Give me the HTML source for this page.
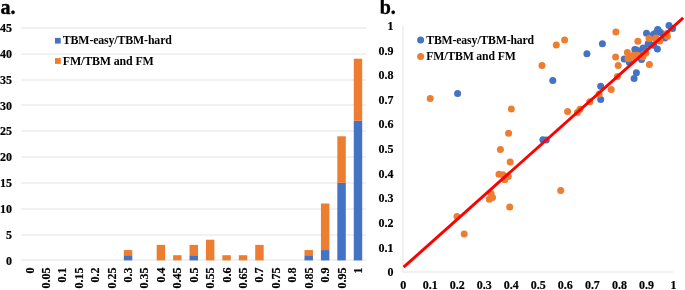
<!DOCTYPE html>
<html><head><meta charset="utf-8"><style>
html,body{margin:0;padding:0;background:#fff;width:685px;height:290px;overflow:hidden}
svg{display:block;will-change:transform}
.t{font-family:"Liberation Serif", serif;font-weight:bold;font-size:12px;fill:#000;stroke:#000;stroke-width:0.2px}
.l{font-family:"Liberation Serif", serif;font-weight:bold;font-size:12.5px;fill:#000}
.h{font-family:"Liberation Serif", serif;font-weight:bold;font-size:20px;fill:#000;stroke:#000;stroke-width:0.35px}
</style></head><body>
<svg width="685" height="290" viewBox="0 0 685 290">
<line x1="21.3" x2="366.2" y1="260" y2="260" stroke="#E3E3E3" stroke-width="1"/>
<text transform="translate(12,264.64) scale(1,1.06)" text-anchor="end" class="t">0</text>
<line x1="21.3" x2="366.2" y1="235" y2="235" stroke="#E3E3E3" stroke-width="1"/>
<text transform="translate(12,238.78) scale(1,1.06)" text-anchor="end" class="t">5</text>
<line x1="21.3" x2="366.2" y1="209" y2="209" stroke="#E3E3E3" stroke-width="1"/>
<text transform="translate(12,212.93) scale(1,1.06)" text-anchor="end" class="t">10</text>
<line x1="21.3" x2="366.2" y1="183" y2="183" stroke="#E3E3E3" stroke-width="1"/>
<text transform="translate(12,187.07) scale(1,1.06)" text-anchor="end" class="t">15</text>
<line x1="21.3" x2="366.2" y1="157" y2="157" stroke="#E3E3E3" stroke-width="1"/>
<text transform="translate(12,161.22) scale(1,1.06)" text-anchor="end" class="t">20</text>
<line x1="21.3" x2="366.2" y1="131" y2="131" stroke="#E3E3E3" stroke-width="1"/>
<text transform="translate(12,135.36) scale(1,1.06)" text-anchor="end" class="t">25</text>
<line x1="21.3" x2="366.2" y1="105" y2="105" stroke="#E3E3E3" stroke-width="1"/>
<text transform="translate(12,109.51) scale(1,1.06)" text-anchor="end" class="t">30</text>
<line x1="21.3" x2="366.2" y1="80" y2="80" stroke="#E3E3E3" stroke-width="1"/>
<text transform="translate(12,83.65) scale(1,1.06)" text-anchor="end" class="t">35</text>
<line x1="21.3" x2="366.2" y1="54" y2="54" stroke="#E3E3E3" stroke-width="1"/>
<text transform="translate(12,57.8) scale(1,1.06)" text-anchor="end" class="t">40</text>
<line x1="21.3" x2="366.2" y1="28" y2="28" stroke="#E3E3E3" stroke-width="1"/>
<text transform="translate(12,31.94) scale(1,1.06)" text-anchor="end" class="t">45</text>
<rect x="123.83" y="255.23" width="8.45" height="5.17" fill="#4472C4"/>
<rect x="123.83" y="250.06" width="8.45" height="5.17" fill="#ED7D31"/>
<rect x="156.68" y="244.89" width="8.45" height="15.51" fill="#ED7D31"/>
<rect x="173.1" y="255.23" width="8.45" height="5.17" fill="#ED7D31"/>
<rect x="189.53" y="255.23" width="8.45" height="5.17" fill="#4472C4"/>
<rect x="189.53" y="244.89" width="8.45" height="10.34" fill="#ED7D31"/>
<rect x="205.95" y="239.72" width="8.45" height="20.68" fill="#ED7D31"/>
<rect x="222.37" y="255.23" width="8.45" height="5.17" fill="#ED7D31"/>
<rect x="238.8" y="255.23" width="8.45" height="5.17" fill="#ED7D31"/>
<rect x="255.22" y="244.89" width="8.45" height="15.51" fill="#ED7D31"/>
<rect x="304.49" y="255.23" width="8.45" height="5.17" fill="#4472C4"/>
<rect x="304.49" y="250.06" width="8.45" height="5.17" fill="#ED7D31"/>
<rect x="320.92" y="250.06" width="8.45" height="10.34" fill="#4472C4"/>
<rect x="320.92" y="203.52" width="8.45" height="46.54" fill="#ED7D31"/>
<rect x="337.34" y="182.83" width="8.45" height="77.57" fill="#4472C4"/>
<rect x="337.34" y="136.29" width="8.45" height="46.54" fill="#ED7D31"/>
<rect x="353.76" y="120.78" width="8.45" height="139.62" fill="#4472C4"/>
<rect x="353.76" y="58.73" width="8.45" height="62.05" fill="#ED7D31"/>
<text transform="translate(33.51,267.6) rotate(-90)" text-anchor="end" class="t">0</text>
<text transform="translate(49.94,267.6) rotate(-90)" text-anchor="end" class="t">0.05</text>
<text transform="translate(66.36,267.6) rotate(-90)" text-anchor="end" class="t">0.1</text>
<text transform="translate(82.78,267.6) rotate(-90)" text-anchor="end" class="t">0.15</text>
<text transform="translate(99.21,267.6) rotate(-90)" text-anchor="end" class="t">0.2</text>
<text transform="translate(115.63,267.6) rotate(-90)" text-anchor="end" class="t">0.25</text>
<text transform="translate(132.05,267.6) rotate(-90)" text-anchor="end" class="t">0.3</text>
<text transform="translate(148.48,267.6) rotate(-90)" text-anchor="end" class="t">0.35</text>
<text transform="translate(164.9,267.6) rotate(-90)" text-anchor="end" class="t">0.4</text>
<text transform="translate(181.33,267.6) rotate(-90)" text-anchor="end" class="t">0.45</text>
<text transform="translate(197.75,267.6) rotate(-90)" text-anchor="end" class="t">0.5</text>
<text transform="translate(214.17,267.6) rotate(-90)" text-anchor="end" class="t">0.55</text>
<text transform="translate(230.6,267.6) rotate(-90)" text-anchor="end" class="t">0.6</text>
<text transform="translate(247.02,267.6) rotate(-90)" text-anchor="end" class="t">0.65</text>
<text transform="translate(263.45,267.6) rotate(-90)" text-anchor="end" class="t">0.7</text>
<text transform="translate(279.87,267.6) rotate(-90)" text-anchor="end" class="t">0.75</text>
<text transform="translate(296.29,267.6) rotate(-90)" text-anchor="end" class="t">0.8</text>
<text transform="translate(312.72,267.6) rotate(-90)" text-anchor="end" class="t">0.85</text>
<text transform="translate(329.14,267.6) rotate(-90)" text-anchor="end" class="t">0.9</text>
<text transform="translate(345.56,267.6) rotate(-90)" text-anchor="end" class="t">0.95</text>
<text transform="translate(361.99,267.6) rotate(-90)" text-anchor="end" class="t">1</text>
<rect x="55.0" y="37.9" width="5.7" height="5.7" fill="#4472C4"/>
<text transform="translate(62.8,44.35) scale(0.95,1.05)" class="l" letter-spacing="-0.15">TBM-easy/TBM-hard</text>
<rect x="55.0" y="58.1" width="5.8" height="5.8" fill="#ED7D31"/>
<text transform="translate(62.8,64.7) scale(0.955,1.05)" class="l" letter-spacing="-0.15">FM/TBM and FM</text>
<text x="0.6" y="14" class="h">a.</text>
<line x1="403" x2="403" y1="25.9" y2="272.5" stroke="#E3E3E3" stroke-width="1"/>
<line x1="403.5" x2="673.4" y1="272" y2="272" stroke="#E3E3E3" stroke-width="1"/>
<text transform="translate(393.4,276.44) scale(1,1.06)" text-anchor="end" class="t">0</text>
<text transform="translate(403.3,289.2) scale(1,1.06)" text-anchor="middle" class="t">0</text>
<text transform="translate(393.4,251.78) scale(1,1.06)" text-anchor="end" class="t">0.1</text>
<text transform="translate(430.31,289.2) scale(1,1.06)" text-anchor="middle" class="t">0.1</text>
<text transform="translate(393.4,227.12) scale(1,1.06)" text-anchor="end" class="t">0.2</text>
<text transform="translate(457.32,289.2) scale(1,1.06)" text-anchor="middle" class="t">0.2</text>
<text transform="translate(393.4,202.46) scale(1,1.06)" text-anchor="end" class="t">0.3</text>
<text transform="translate(484.33,289.2) scale(1,1.06)" text-anchor="middle" class="t">0.3</text>
<text transform="translate(393.4,177.8) scale(1,1.06)" text-anchor="end" class="t">0.4</text>
<text transform="translate(511.34,289.2) scale(1,1.06)" text-anchor="middle" class="t">0.4</text>
<text transform="translate(393.4,153.14) scale(1,1.06)" text-anchor="end" class="t">0.5</text>
<text transform="translate(538.35,289.2) scale(1,1.06)" text-anchor="middle" class="t">0.5</text>
<text transform="translate(393.4,128.48) scale(1,1.06)" text-anchor="end" class="t">0.6</text>
<text transform="translate(565.36,289.2) scale(1,1.06)" text-anchor="middle" class="t">0.6</text>
<text transform="translate(393.4,103.82) scale(1,1.06)" text-anchor="end" class="t">0.7</text>
<text transform="translate(592.37,289.2) scale(1,1.06)" text-anchor="middle" class="t">0.7</text>
<text transform="translate(393.4,79.16) scale(1,1.06)" text-anchor="end" class="t">0.8</text>
<text transform="translate(619.38,289.2) scale(1,1.06)" text-anchor="middle" class="t">0.8</text>
<text transform="translate(393.4,54.5) scale(1,1.06)" text-anchor="end" class="t">0.9</text>
<text transform="translate(646.39,289.2) scale(1,1.06)" text-anchor="middle" class="t">0.9</text>
<text transform="translate(393.4,29.84) scale(1,1.06)" text-anchor="end" class="t">1</text>
<text transform="translate(673.4,289.2) scale(1,1.06)" text-anchor="middle" class="t">1</text>
<circle cx="457.6" cy="93.5" r="3.5" fill="#4472C4"/>
<circle cx="542.9" cy="139.8" r="3.5" fill="#4472C4"/>
<circle cx="546.3" cy="140" r="3.5" fill="#4472C4"/>
<circle cx="586.9" cy="53.8" r="3.5" fill="#4472C4"/>
<circle cx="552.8" cy="80.5" r="3.5" fill="#4472C4"/>
<circle cx="602.4" cy="43.8" r="3.5" fill="#4472C4"/>
<circle cx="600.7" cy="86.2" r="3.5" fill="#4472C4"/>
<circle cx="600.7" cy="99.6" r="3.5" fill="#4472C4"/>
<circle cx="636.4" cy="72.8" r="3.5" fill="#4472C4"/>
<circle cx="634.1" cy="78.6" r="3.5" fill="#4472C4"/>
<circle cx="624.2" cy="59" r="3.5" fill="#4472C4"/>
<circle cx="629.3" cy="62.2" r="3.5" fill="#4472C4"/>
<circle cx="634.8" cy="49.6" r="3.5" fill="#4472C4"/>
<circle cx="638.4" cy="51.9" r="3.5" fill="#4472C4"/>
<circle cx="642.9" cy="48.3" r="3.5" fill="#4472C4"/>
<circle cx="641.5" cy="59.5" r="3.5" fill="#4472C4"/>
<circle cx="644.3" cy="48" r="3.5" fill="#4472C4"/>
<circle cx="636.6" cy="50" r="3.5" fill="#4472C4"/>
<circle cx="649.3" cy="43.8" r="3.5" fill="#4472C4"/>
<circle cx="653.6" cy="45.3" r="3.5" fill="#4472C4"/>
<circle cx="657.4" cy="49" r="3.5" fill="#4472C4"/>
<circle cx="646.5" cy="33.3" r="3.5" fill="#4472C4"/>
<circle cx="653.4" cy="34.6" r="3.5" fill="#4472C4"/>
<circle cx="658.2" cy="30" r="3.5" fill="#4472C4"/>
<circle cx="657.6" cy="29.5" r="3.5" fill="#4472C4"/>
<circle cx="660.5" cy="32.5" r="3.5" fill="#4472C4"/>
<circle cx="655" cy="33.5" r="3.5" fill="#4472C4"/>
<circle cx="669" cy="25.5" r="3.5" fill="#4472C4"/>
<circle cx="672.6" cy="28.6" r="3.5" fill="#4472C4"/>
<circle cx="664.8" cy="38.1" r="3.5" fill="#4472C4"/>
<circle cx="648.3" cy="43.4" r="3.5" fill="#4472C4"/>
<circle cx="430.2" cy="98.5" r="3.5" fill="#ED7D31"/>
<circle cx="457" cy="216.5" r="3.5" fill="#ED7D31"/>
<circle cx="464.2" cy="234.1" r="3.5" fill="#ED7D31"/>
<circle cx="489.3" cy="199.2" r="3.5" fill="#ED7D31"/>
<circle cx="492.5" cy="197.5" r="3.5" fill="#ED7D31"/>
<circle cx="491" cy="193.6" r="3.5" fill="#ED7D31"/>
<circle cx="499" cy="174.3" r="3.5" fill="#ED7D31"/>
<circle cx="503" cy="174.7" r="3.5" fill="#ED7D31"/>
<circle cx="508.3" cy="176.6" r="3.5" fill="#ED7D31"/>
<circle cx="504.8" cy="179.8" r="3.5" fill="#ED7D31"/>
<circle cx="509.7" cy="206.9" r="3.5" fill="#ED7D31"/>
<circle cx="510.2" cy="162.1" r="3.5" fill="#ED7D31"/>
<circle cx="511.3" cy="109.1" r="3.5" fill="#ED7D31"/>
<circle cx="508.6" cy="133.3" r="3.5" fill="#ED7D31"/>
<circle cx="500.4" cy="149.5" r="3.5" fill="#ED7D31"/>
<circle cx="564.6" cy="39.9" r="3.5" fill="#ED7D31"/>
<circle cx="556.3" cy="45.1" r="3.5" fill="#ED7D31"/>
<circle cx="542" cy="65.4" r="3.5" fill="#ED7D31"/>
<circle cx="560.7" cy="190.4" r="3.5" fill="#ED7D31"/>
<circle cx="567.6" cy="111.5" r="3.5" fill="#ED7D31"/>
<circle cx="577.4" cy="112.6" r="3.5" fill="#ED7D31"/>
<circle cx="580" cy="109.2" r="3.5" fill="#ED7D31"/>
<circle cx="589.8" cy="101.7" r="3.5" fill="#ED7D31"/>
<circle cx="599.1" cy="94.1" r="3.5" fill="#ED7D31"/>
<circle cx="611.2" cy="89.5" r="3.5" fill="#ED7D31"/>
<circle cx="617.4" cy="76.6" r="3.5" fill="#ED7D31"/>
<circle cx="615.9" cy="31.9" r="3.5" fill="#ED7D31"/>
<circle cx="615.6" cy="57" r="3.5" fill="#ED7D31"/>
<circle cx="618.2" cy="65.6" r="3.5" fill="#ED7D31"/>
<circle cx="627.4" cy="52.5" r="3.5" fill="#ED7D31"/>
<circle cx="629" cy="58.3" r="3.5" fill="#ED7D31"/>
<circle cx="633.4" cy="55.3" r="3.5" fill="#ED7D31"/>
<circle cx="637.9" cy="41.2" r="3.5" fill="#ED7D31"/>
<circle cx="649" cy="38.6" r="3.5" fill="#ED7D31"/>
<circle cx="655.3" cy="38.8" r="3.5" fill="#ED7D31"/>
<circle cx="659.7" cy="41" r="3.5" fill="#ED7D31"/>
<circle cx="645.9" cy="53.1" r="3.5" fill="#ED7D31"/>
<circle cx="637.6" cy="55.2" r="3.5" fill="#ED7D31"/>
<circle cx="642.4" cy="57" r="3.5" fill="#ED7D31"/>
<circle cx="649.4" cy="64.4" r="3.5" fill="#ED7D31"/>
<circle cx="666.9" cy="33.4" r="3.5" fill="#ED7D31"/>
<circle cx="667.4" cy="36.5" r="3.5" fill="#ED7D31"/>
<circle cx="656" cy="37.9" r="3.5" fill="#ED7D31"/>
<circle cx="628" cy="58.6" r="3.5" fill="#ED7D31"/>
<circle cx="632" cy="57.6" r="3.5" fill="#ED7D31"/>
<circle cx="643" cy="56.6" r="3.5" fill="#ED7D31"/>
<line x1="403.6" y1="267.2" x2="683.2" y2="17.9" stroke="#FF0000" stroke-width="2.95"/>
<circle cx="420.6" cy="40.1" r="3.5" fill="#4472C4"/>
<text transform="translate(426.2,43.5) scale(0.94,1.05)" class="l" letter-spacing="-0.15">TBM-easy/TBM-hard</text>
<circle cx="420.6" cy="56.6" r="3.5" fill="#ED7D31"/>
<text transform="translate(426.2,60.0) scale(0.94,1.05)" class="l" letter-spacing="-0.15">FM/TBM and FM</text>
<text x="379.7" y="13.7" class="h">b.</text>
</svg>
</body></html>
